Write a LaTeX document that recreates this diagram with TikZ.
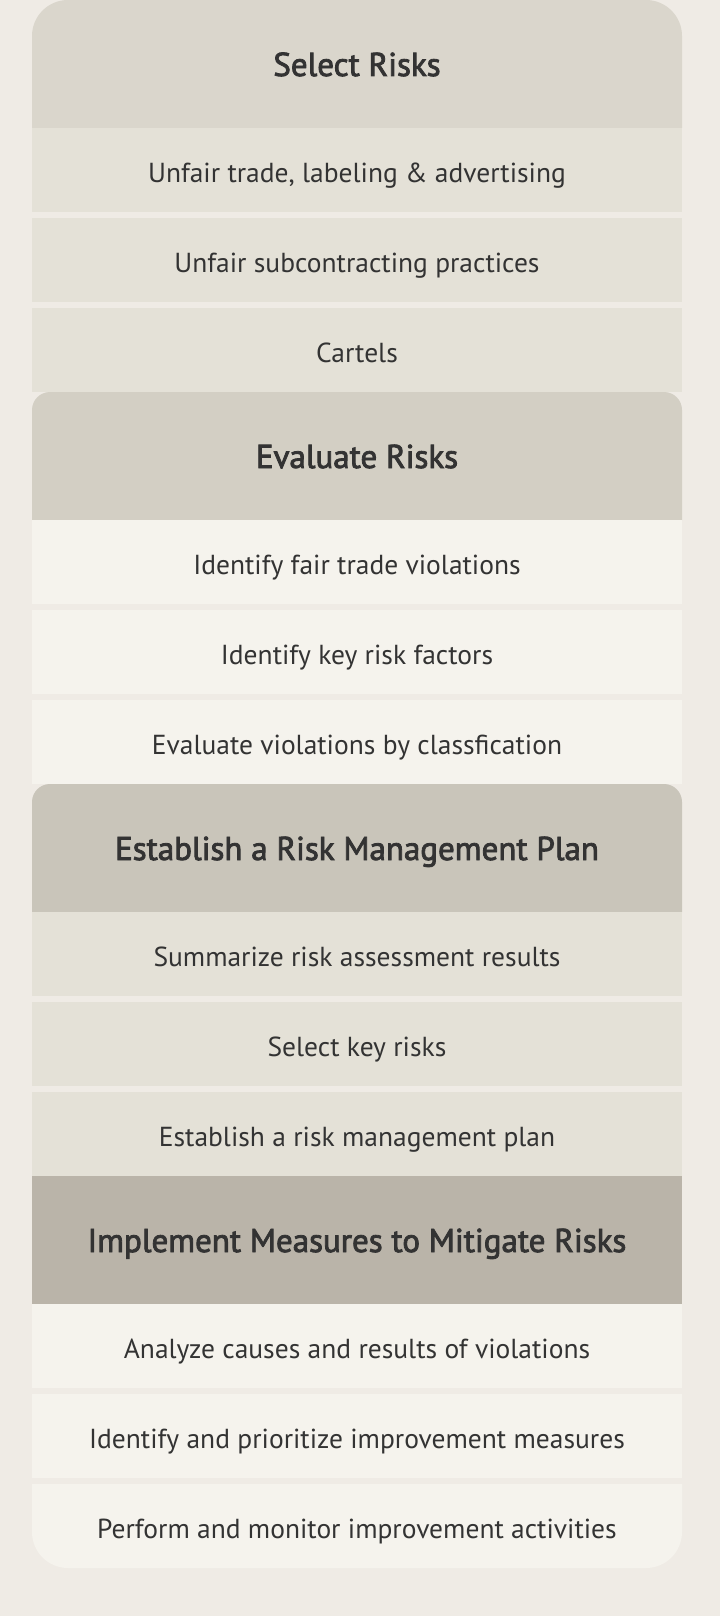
\documentclass[tikz,border=0pt]{standalone}
\usepackage{fontspec}
\setmainfont{PT Sans}
\newfontfamily\headfont{PT Sans}[FakeBold=2.5]
\usetikzlibrary{positioning, backgrounds}
\definecolor{bgcol}{HTML}{EFEBE5}
\definecolor{headA}{HTML}{DAD6CC}
\definecolor{headB}{HTML}{D3CFC4}
\definecolor{headC}{HTML}{C9C5BA}
\definecolor{headD}{HTML}{BAB4A9}
\definecolor{itemA}{HTML}{E4E1D7}
\definecolor{itemB}{HTML}{F5F3ED}
\definecolor{ink}{HTML}{333333}

\begin{document}
\begin{tikzpicture}[x=1pt, y=1pt,
        head/.style={minimum width=650pt, minimum height=128pt, inner sep=0pt, outer sep=0pt, text=ink,
            text height=24pt, text depth=0pt, font=\headfont\fontsize{33}{40}\selectfont},
        item/.style={minimum width=650pt, minimum height=84pt, inner sep=0pt, outer sep=0pt, text=ink,
            text height=25pt, text depth=0pt, font=\fontsize{27.5}{32}\selectfont},
        light/.style={item, fill=itemA},
        pale/.style={item, fill=itemB}]
        \def\gap{6pt}
        \node[head] (sel) at (357,-64) {Select Risks};
        \node[light, below=0pt of sel] (sel1) {Unfair trade, labeling \& advertising};
        \node[light, below=\gap of sel1] (sel2) {Unfair subcontracting practices};
        \node[light, below=\gap of sel2] (sel3) {Cartels};
        \node[head, below=0pt of sel3] (eval) {Evaluate Risks};
        \node[pale, below=0pt of eval] (eval1) {Identify fair trade violations};
        \node[pale, below=\gap of eval1] (eval2) {Identify key risk factors};
        \node[pale, below=\gap of eval2] (eval3) {Evaluate violations by classfication};
        \node[head, below=0pt of eval3] (plan) {Establish a Risk Management Plan};
        \node[light, below=0pt of plan] (plan1) {Summarize risk assessment results};
        \node[light, below=\gap of plan1] (plan2) {Select key risks};
        \node[light, below=\gap of plan2] (plan3) {Establish a risk management plan};
        \node[head, fill=headD, below=0pt of plan3] (impl) {Implement Measures to Mitigate Risks};
        \node[pale, below=0pt of impl] (impl1) {Analyze causes and results of violations};
        \node[pale, below=\gap of impl1] (impl2) {Identify and prioritize improvement measures};
        \node[item, below=\gap of impl2] (impl3) {Perform and monitor improvement activities};
        \begin{scope}[on background layer]
            \fill[bgcol] (0,0) rectangle (720,-1616);
            \fill[headA] (sel.south west) [rounded corners=36pt] -- (sel.north west) -- (sel.north east) [sharp corners] -- (sel.south east) -- cycle;
            \fill[headB] (eval.south west) [rounded corners=18pt] -- (eval.north west) -- (eval.north east) [sharp corners] -- (eval.south east) -- cycle;
            \fill[headC] (plan.south west) [rounded corners=18pt] -- (plan.north west) -- (plan.north east) [sharp corners] -- (plan.south east) -- cycle;
            \fill[itemB] (impl3.north west) [rounded corners=36pt] -- (impl3.south west) -- (impl3.south east) [sharp corners] -- (impl3.north east) -- cycle;
        \end{scope}
\end{tikzpicture}
\end{document}
